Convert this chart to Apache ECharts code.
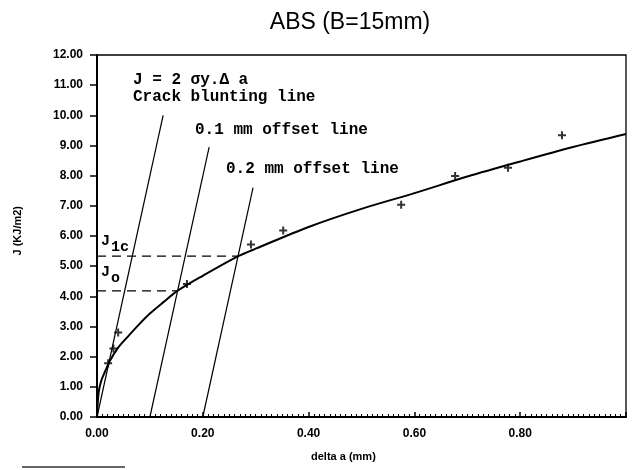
<!DOCTYPE html>
<html><head><meta charset="utf-8">
<script src="https://cdn.jsdelivr.net/npm/echarts@6/dist/echarts.min.js"></script>
<style>html,body{margin:0;padding:0;background:#fff}#c{width:636px;height:470px}</style>
</head><body><div id="c"></div>
<script>
// Measured points (delta a in mm, J in kJ/m2)
const pointDeltaA = [0.021, 0.031, 0.040, 0.170, 0.291, 0.352, 0.575, 0.677, 0.777, 0.879];
const pointJ      = [1.78, 2.27, 2.80, 4.41, 5.72, 6.18, 7.04, 7.99, 8.26, 9.34];
// Fitted R-curve
const curveDeltaA = [0, 0.003, 0.008, 0.015, 0.025, 0.04, 0.06, 0.08, 0.1, 0.125, 0.152, 0.2, 0.267, 0.3, 0.4, 0.5, 0.6, 0.7, 0.8, 0.9, 1.0];
const curveJ      = [0, 0.8, 1.2, 1.5, 1.88, 2.3, 2.7, 3.08, 3.43, 3.8, 4.18, 4.68, 5.33, 5.58, 6.3, 6.9, 7.42, 7.97, 8.47, 8.95, 9.38];
// Construction lines
const bluntingLine = [[0, 0], [0.125, 10.0]];
const offset01Line = [[0.1, 0], [0.212, 8.95]];
const offset02Line = [[0.2, 0], [0.295, 7.6]];
const J1cLine = [[0, 5.33], [0.267, 5.33]];
const JoLine  = [[0, 4.18], [0.152, 4.18]];
const xTickLabels = ['0.00', '0.20', '0.40', '0.60', '0.80'];

const chart = echarts.init(document.getElementById('c'));
const plus = 'path://M3,0h2v3h3v2h-3v3h-2v-3h-3v-2h3z';
const mono = '"Liberation Mono", "Courier New", monospace';
const sans = '"Liberation Sans", Arial, sans-serif';
chart.setOption({
  animation: false,
  backgroundColor: '#fff',
  title: {text: 'ABS (B=15mm)', left: 345, top: 6, textAlign: 'center',
    textStyle: {fontFamily: sans, fontWeight: 'normal', fontSize: 23, color: '#000'}},
  grid: {left: 97, right: 10, top: 55, bottom: 53, show: true, borderColor: '#000', borderWidth: 1.3},
  xAxis: {type: 'value', min: 0, max: 1.0, interval: 0.2,
    axisLine: {lineStyle: {color: '#000', width: 2}},
    axisTick: {inside: true, length: 5, lineStyle: {color: '#000', width: 1.5}},
    minorTick: {show: true, splitNumber: 20, length: 3, lineStyle: {color: '#000', width: 1}},
    splitLine: {show: false},
    axisLabel: {color: '#000', fontFamily: sans, fontWeight: 'bold', fontSize: 12, margin: 11,
      formatter: v => { const s = v.toFixed(2); return xTickLabels.indexOf(s) >= 0 ? s : ''; }}},
  yAxis: {type: 'value', min: 0, max: 12, interval: 1,
    axisLine: {lineStyle: {color: '#000', width: 2}},
    axisTick: {length: 7, lineStyle: {color: '#000', width: 1.5}},
    splitLine: {show: false},
    axisLabel: {color: '#000', fontFamily: sans, fontWeight: 'bold', fontSize: 12, margin: 14,
      formatter: v => v.toFixed(2)}},
  graphic: [
    {type: 'text', left: 311, top: 451, style: {text: 'delta a (mm)', font: 'bold 11px ' + sans, fill: '#000'}},
    {type: 'text', left: 12, top: 206, rotation: Math.PI / 2, style: {text: 'J (KJ/m2)', font: 'bold 11px ' + sans, fill: '#000'}},
    {type: 'text', left: 133, top: 72, style: {text: 'J = 2 σy.Δ a', font: 'bold 16px ' + mono, fill: '#000'}},
    {type: 'text', left: 133, top: 89, style: {text: 'Crack blunting line', font: 'bold 16px ' + mono, fill: '#000'}},
    {type: 'text', left: 195, top: 122, style: {text: '0.1 mm offset line', font: 'bold 16px ' + mono, fill: '#000'}},
    {type: 'text', left: 226, top: 161, style: {text: '0.2 mm offset line', font: 'bold 16px ' + mono, fill: '#000'}},
    {type: 'text', left: 101, top: 234, style: {text: 'J', font: 'bold 15px ' + mono, fill: '#000'}},
    {type: 'text', left: 111, top: 240, style: {text: '1c', font: 'bold 15px ' + mono, fill: '#000'}},
    {type: 'text', left: 101, top: 265, style: {text: 'J', font: 'bold 15px ' + mono, fill: '#000'}},
    {type: 'text', left: 111, top: 271, style: {text: 'o', font: 'bold 15px ' + mono, fill: '#000'}},
    {type: 'line', shape: {x1: 22, y1: 467, x2: 125, y2: 467}, style: {stroke: '#333', lineWidth: 1.5}}
  ],
  series: [
    {type: 'line', data: curveDeltaA.map((x, i) => [x, curveJ[i]]), smooth: 0.3, showSymbol: false,
      lineStyle: {color: '#000', width: 2}, z: 3},
    {type: 'scatter', data: pointDeltaA.map((x, i) => [x, pointJ[i]]), symbol: plus, symbolSize: 8,
      itemStyle: {color: '#000'}, z: 4},
    {type: 'line', data: bluntingLine, showSymbol: false, lineStyle: {color: '#000', width: 1.2}},
    {type: 'line', data: offset01Line, showSymbol: false, lineStyle: {color: '#000', width: 1.2}},
    {type: 'line', data: offset02Line, showSymbol: false, lineStyle: {color: '#000', width: 1.2}},
    {type: 'line', data: J1cLine, showSymbol: false, lineStyle: {color: '#000', width: 1.2, type: [9, 6]}},
    {type: 'line', data: JoLine, showSymbol: false, lineStyle: {color: '#000', width: 1.2, type: [9, 6]}}
  ]
});
</script></body></html>
